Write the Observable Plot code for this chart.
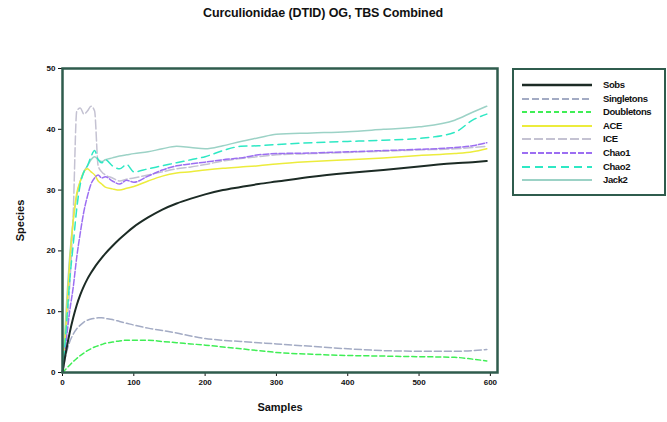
<!DOCTYPE html>
<html>
<head>
<meta charset="utf-8">
<script src="https://cdn.jsdelivr.net/npm/d3@7"></script>
<script src="https://cdn.jsdelivr.net/npm/@observablehq/plot@0.6"></script>
<style>
  html, body { margin: 0; padding: 0; background: #fff; }
  #wrap { position: relative; width: 667px; height: 422px; font-family: "Liberation Sans", Arial, sans-serif; }
  #title { position: absolute; left: 0; top: 6px; width: 646px; text-align: center; font-size: 12.5px; font-weight: bold; color: #111; letter-spacing: -0.1px; }
  #legend { position: absolute; left: 512px; top: 68px; width: 150px; height: 124px; border: 2px solid #2f5c4d; box-sizing: content-box; }
  #legend .row { position: absolute; left: 0; height: 13px; width: 150px; }
  #legend svg { position: absolute; left: 8px; top: 3px; }
  #legend span { position: absolute; left: 89px; top: 0; font-size: 9.5px; font-weight: bold; color: #111; letter-spacing: -0.4px; line-height: 12px; }
  #chart svg text { font-weight: bold; }
</style>
</head>
<body>
<div id="wrap">
  <div id="chart"></div>
  <div id="title">Curculionidae (DTID) OG, TBS Combined</div>
  <div id="legend"></div>
</div>
<script>
const samples = [0,5,10,15,20,25,30,35,40,45,50,55,60,70,80,90,100,120,140,160,180,200,225,250,275,300,350,400,450,500,550,575,595];

const sobs       = [0,3.5,6.5,9,11.1,12.8,14.2,15.4,16.4,17.3,18.1,18.85,19.55,20.8,21.95,23.0,23.95,25.5,26.8,27.8,28.6,29.3,30,30.5,31,31.4,32.2,32.8,33.3,33.9,34.4,34.6,34.8];
const singletons = [0,3,5,6.3,7.2,7.8,8.3,8.6,8.8,8.9,9.0,9.0,8.9,8.7,8.4,8.1,7.8,7.3,6.9,6.5,6.0,5.6,5.3,5.1,4.9,4.7,4.3,3.9,3.6,3.5,3.5,3.6,3.8];
const doubletons = [0,0.6,1.2,1.8,2.3,2.8,3.2,3.6,3.9,4.2,4.4,4.6,4.8,5.0,5.2,5.3,5.3,5.3,5.1,4.9,4.7,4.5,4.2,3.9,3.6,3.3,3.0,2.8,2.7,2.6,2.5,2.2,1.9];
const ace        = [0,8,18,25,29.5,31.5,33,33.5,33,32.5,31.5,31,30.5,30.2,30,30.3,30.6,31.5,32.3,32.8,33,33.3,33.6,33.8,34,34.3,34.7,35,35.3,35.7,36,36.3,36.8];
const ice        = [0,6,14,26,43,43.5,42.5,43,43.8,43,34,33,32.5,32,31.5,31.8,32,32.5,33,33.5,33.8,34.2,34.8,35.2,35.5,35.8,36,36.2,36.4,36.6,36.8,37,37.2];
const chao1      = [0,5,10,14,19,23,26.5,29,31,32,32.5,32,32.2,31.5,31,31.6,31.3,32.3,33.3,34,34.3,34.6,35,35.3,35.8,36,36.1,36.3,36.5,36.7,37,37.3,37.8];
const chao2      = [0,7,15,21,27,31,33,34,35.5,36.5,35,34.5,35,34,33.5,34.2,33,33.5,34,34.5,35,35.5,36.5,37.2,37.3,37.5,37.8,38,38.2,38.5,39.5,41.5,42.5];
const jack2      = [0,10,19,25,29,31.5,33,34,35,35.5,35,34.7,35,35.3,35.6,35.8,36,36.3,36.8,37.2,37,36.8,37.3,38,38.6,39.2,39.4,39.6,40,40.4,41.5,42.8,43.8];

const seriesNames = ["Sobs","Singletons","Doubletons","ACE","ICE","Chao1","Chao2","Jack2"];
const seriesValues = [sobs, singletons, doubletons, ace, ice, chao1, chao2, jack2];
const yTicks = [0,10,20,30,40,50];
const xTicks = [0,100,200,300,400,500,600];

const styles = {
  Sobs:       {stroke: "#1c2b25", width: 2,   dash: null},
  Singletons: {stroke: "#a3abc4", width: 1.5, dash: "7,3"},
  Doubletons: {stroke: "#3fee55", width: 1.5, dash: "5,3"},
  ACE:        {stroke: "#ecec3c", width: 1.5, dash: null},
  ICE:        {stroke: "#c4c2d2", width: 1.5, dash: "9,3"},
  Chao1:      {stroke: "#9c6ef2", width: 1.5, dash: "6,2"},
  Chao2:      {stroke: "#2ee8c4", width: 1.5, dash: "8,5"},
  Jack2:      {stroke: "#9cd2c6", width: 1.5, dash: null}
};

const marks = [];
const order = ["Jack2","ICE","ACE","Chao1","Chao2","Singletons","Doubletons","Sobs"];
for (const name of order) {
  const vals = seriesValues[seriesNames.indexOf(name)];
  const data = samples.map((s, i) => ({s, v: vals[i]}));
  const st = styles[name];
  marks.push(Plot.line(data, {x: "s", y: "v", stroke: st.stroke, strokeWidth: st.width, strokeDasharray: st.dash, curve: "monotone-x"}));
}

const plot = Plot.plot({
  width: 667,
  height: 422,
  marginLeft: 62,
  marginRight: 170,
  marginTop: 68,
  marginBottom: 50,
  style: {fontFamily: "Liberation Sans, Arial, sans-serif", fontSize: "8px", color: "#111", background: "#fff"},
  x: {domain: [0, 610], ticks: xTicks},
  y: {domain: [0, 50], ticks: yTicks},
  marks: [
    Plot.axisX({ticks: xTicks, tickSize: 4, tickPadding: 3, label: "Samples", labelAnchor: "center", labelArrow: "none", labelOffset: 38, fontSize: 8}),
    Plot.axisY({ticks: yTicks, tickSize: 4, tickPadding: 3, label: "Species", labelAnchor: "center", labelArrow: "none", labelOffset: 46, fontSize: 8}),
    ...marks,
    Plot.frame({stroke: "#2f5c4d", strokeWidth: 2.5})
  ]
});
document.getElementById("chart").appendChild(plot);
plot.querySelectorAll("g[aria-label='x-axis label'] text, g[aria-label='y-axis label'] text").forEach(t => t.setAttribute("font-size", "11px"));

const legend = document.getElementById("legend");
seriesNames.forEach((name, i) => {
  const st = styles[name];
  const row = document.createElement("div");
  row.className = "row";
  row.style.top = (9 + i * 13.6) + "px";
  row.innerHTML = `<svg width="70" height="6"><line x1="0" y1="3" x2="70" y2="3" stroke="${st.stroke}" stroke-width="${st.width + 0.5}" ${st.dash ? `stroke-dasharray="${st.dash}"` : ""}/></svg><span>${name}</span>`;
  legend.appendChild(row);
});
</script>
</body>
</html>
